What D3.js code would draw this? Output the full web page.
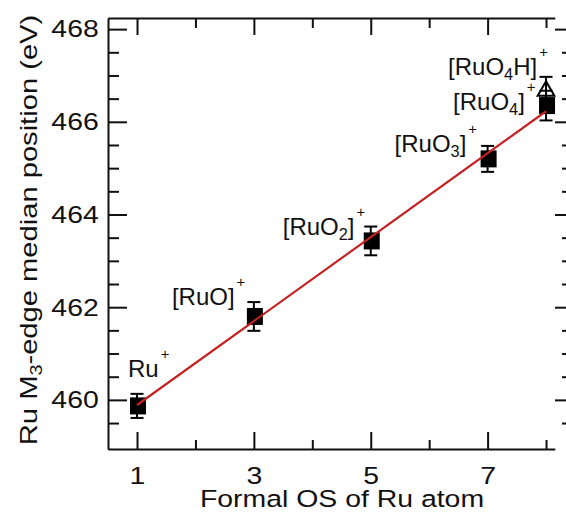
<!DOCTYPE html>
<html><head><meta charset="utf-8">
<script src="https://cdn.jsdelivr.net/npm/d3@7"></script>
<style>
html,body{margin:0;padding:0;background:#fff;}
svg{display:block;}
text{font-family:"Liberation Sans",Arial,sans-serif;fill:#111;}
</style></head>
<body>
<svg id="chart" width="566" height="515"></svg>
<script>
// ---- data ----
const formalOS = [1, 3, 5, 7, 8];
const edgeMedian = [459.87, 461.80, 463.43, 465.20, 466.35];
const edgeError = [0.26, 0.31, 0.31, 0.28, 0.32];
const hydrideOS = [8];
const hydrideMedian = [466.69];
const hydrideError = [0.28];
const speciesLabels = ["Ru^+", "[RuO]^+", "[RuO_2]^+", "[RuO_3]^+", "[RuO_4]^+"];
const hydrideLabels = ["[RuO_4H]^+"];
const xMajorTicks = [1, 3, 5, 7];
const xMinorTicks = [2, 4, 6, 8];
const yMajorTicks = [460, 462, 464, 466, 468];
const yMinorTicks = [459.5, 460.5, 461, 461.5, 462.5, 463, 463.5, 464.5, 465, 465.5, 466.5, 467, 467.5];
const xTitle = "Formal OS of Ru atom";
const yTitle = "Ru M_3-edge median position (eV)";

(function () {
// ---- layout ----
const FS = 24.5, STRETCH = 1.16, LFS = 24;
const svg = d3.select("#chart");
const x = d3.scaleLinear().domain([0.5, 8.15]).range([107.8, 554.8]);
const y = d3.scaleLinear().domain([458.94, 468.24]).range([449, 18]);
const pLeft = 108, pTop = 18, pBottom = 449;
// label offsets (pixels): left edge and baseline relative to the marker centre
const speciesLayout = [
  {dx: -9, dy: -29},
  {dx: -82, dy: -11},
  {dx: -88, dy: -6},
  {dx: -93, dy: -7},
  {dx: -93, dy: 4}
];
const hydrideLayout = [{dx: -98, dy: -15}];

function richText(t, str, fs) {
  const parts = [];
  let i = 0, buf = "";
  while (i < str.length) {
    const c = str[i];
    if (c === "_" || c === "^") {
      if (buf) { parts.push({t: buf, k: "n"}); buf = ""; }
      parts.push({t: str[i + 1], k: c === "_" ? "sub" : "sup"});
      i += 2;
    } else { buf += c; i++; }
  }
  if (buf) parts.push({t: buf, k: "n"});
  let shift = 0;
  parts.forEach(p => {
    const target = p.k === "sub" ? 5 : p.k === "sup" ? -18 : 0;
    const ts = t.append("tspan").text(p.t).attr("dy", target - shift);
    if (p.k === "sub") ts.attr("font-size", fs * 0.68);
    if (p.k === "sup") ts.attr("font-size", fs * 0.62).attr("dx", 2);
    shift = target;
  });
}

function styleAxis(g) {
  g.selectAll("path,line").attr("stroke", "#111").attr("stroke-width", 2);
  g.selectAll("text").attr("font-size", FS).attr("font-family", null).attr("fill", "#111")
    .attr("transform", `scale(${STRETCH},1)`);
}

const gl = svg.append("g").attr("transform", `translate(${pLeft},0)`)
  .call(d3.axisLeft(y).tickValues(yMajorTicks).tickSize(-19).tickSizeOuter(0).tickPadding(8));
styleAxis(gl);
const glm = svg.append("g").attr("transform", `translate(${pLeft},0)`)
  .call(d3.axisLeft(y).tickValues(yMinorTicks).tickSize(-11).tickFormat(""));
glm.select(".domain").remove();
styleAxis(glm);

const gr = svg.append("g").attr("transform", `translate(567,0)`)
  .call(d3.axisRight(y).tickValues(yMajorTicks).tickSize(-12).tickFormat(""));
gr.select(".domain").remove();
styleAxis(gr);
const grm = svg.append("g").attr("transform", `translate(567,0)`)
  .call(d3.axisRight(y).tickValues(yMinorTicks).tickSize(-5).tickFormat(""));
grm.select(".domain").remove();
styleAxis(grm);

const gb = svg.append("g").attr("transform", `translate(0,${pBottom})`)
  .call(d3.axisBottom(x).tickValues(xMajorTicks).tickSize(-17).tickSizeOuter(0).tickPadding(17.5).tickFormat(d3.format("d")));
styleAxis(gb);
const gbm = svg.append("g").attr("transform", `translate(0,${pBottom})`)
  .call(d3.axisBottom(x).tickValues(xMinorTicks).tickSize(-9).tickFormat(""));
gbm.select(".domain").remove();
styleAxis(gbm);

const gt = svg.append("g").attr("transform", `translate(0,${pTop})`)
  .call(d3.axisTop(x).tickValues(xMajorTicks).tickSize(-17).tickSizeOuter(0).tickFormat(""));
styleAxis(gt);
const gtm = svg.append("g").attr("transform", `translate(0,${pTop})`)
  .call(d3.axisTop(x).tickValues(xMinorTicks).tickSize(-10).tickFormat(""));
gtm.select(".domain").remove();
styleAxis(gtm);

svg.append("text").attr("transform", `translate(342,507) scale(${STRETCH},1)`)
  .attr("text-anchor", "middle").attr("font-size", FS).text(xTitle);
const yt = svg.append("text").attr("transform", `translate(37,230) rotate(-90) scale(1.19,1)`)
  .attr("text-anchor", "middle").attr("font-size", FS);
richText(yt, yTitle, FS);

const cap = 6.5;
function errorBars(xs, ys, es) {
  const g = svg.append("g").attr("stroke", "#000").attr("stroke-width", 2);
  xs.forEach((xv, i) => {
    const cx = x(xv), y1 = y(ys[i] + es[i]), y0 = y(ys[i] - es[i]);
    g.append("line").attr("x1", cx).attr("x2", cx).attr("y1", y1).attr("y2", y0);
    g.append("line").attr("x1", cx - cap).attr("x2", cx + cap).attr("y1", y1).attr("y2", y1);
    g.append("line").attr("x1", cx - cap).attr("x2", cx + cap).attr("y1", y0).attr("y2", y0);
  });
}

const tri = d3.symbol().type(d3.symbolTriangle).size(120);
svg.append("g").selectAll("path").data(hydrideOS).join("path")
  .attr("d", tri).attr("transform", (d, i) => `translate(${x(d)},${y(hydrideMedian[i]) + 1})`)
  .attr("fill", "#fff").attr("stroke", "#000").attr("stroke-width", 2);
errorBars(hydrideOS, hydrideMedian, hydrideError);

errorBars(formalOS, edgeMedian, edgeError);
const sq = 16;
svg.append("g").selectAll("rect").data(formalOS).join("rect")
  .attr("x", d => x(d) - sq / 2 + 1).attr("y", (d, i) => y(edgeMedian[i]) - sq / 2 - 0.5)
  .attr("width", sq).attr("height", sq + 1).attr("fill", "#000");

const mx = d3.mean(formalOS), my = d3.mean(edgeMedian);
const sxy = d3.sum(formalOS, (d, i) => (d - mx) * (edgeMedian[i] - my));
const sxx = d3.sum(formalOS, d => (d - mx) * (d - mx));
const slope = sxy / sxx, icpt = my - slope * mx;
const fitX = d3.extent(formalOS);
svg.append("path")
  .attr("d", d3.line().x(d => x(d)).y(d => y(icpt + slope * d))(fitX))
  .attr("stroke", "#c42222").attr("stroke-width", 2.2).attr("fill", "none");

function labels(xs, ys, texts, layout) {
  xs.forEach((xv, i) => {
    const L = layout[i];
    const t = svg.append("text")
      .attr("x", x(xv) + L.dx).attr("y", y(ys[i]) + L.dy)
      .attr("font-size", LFS);
    richText(t, texts[i], LFS);
  });
}
labels(formalOS, edgeMedian, speciesLabels, speciesLayout);
labels(hydrideOS, hydrideMedian, hydrideLabels, hydrideLayout);
})();
</script>
</body></html>
